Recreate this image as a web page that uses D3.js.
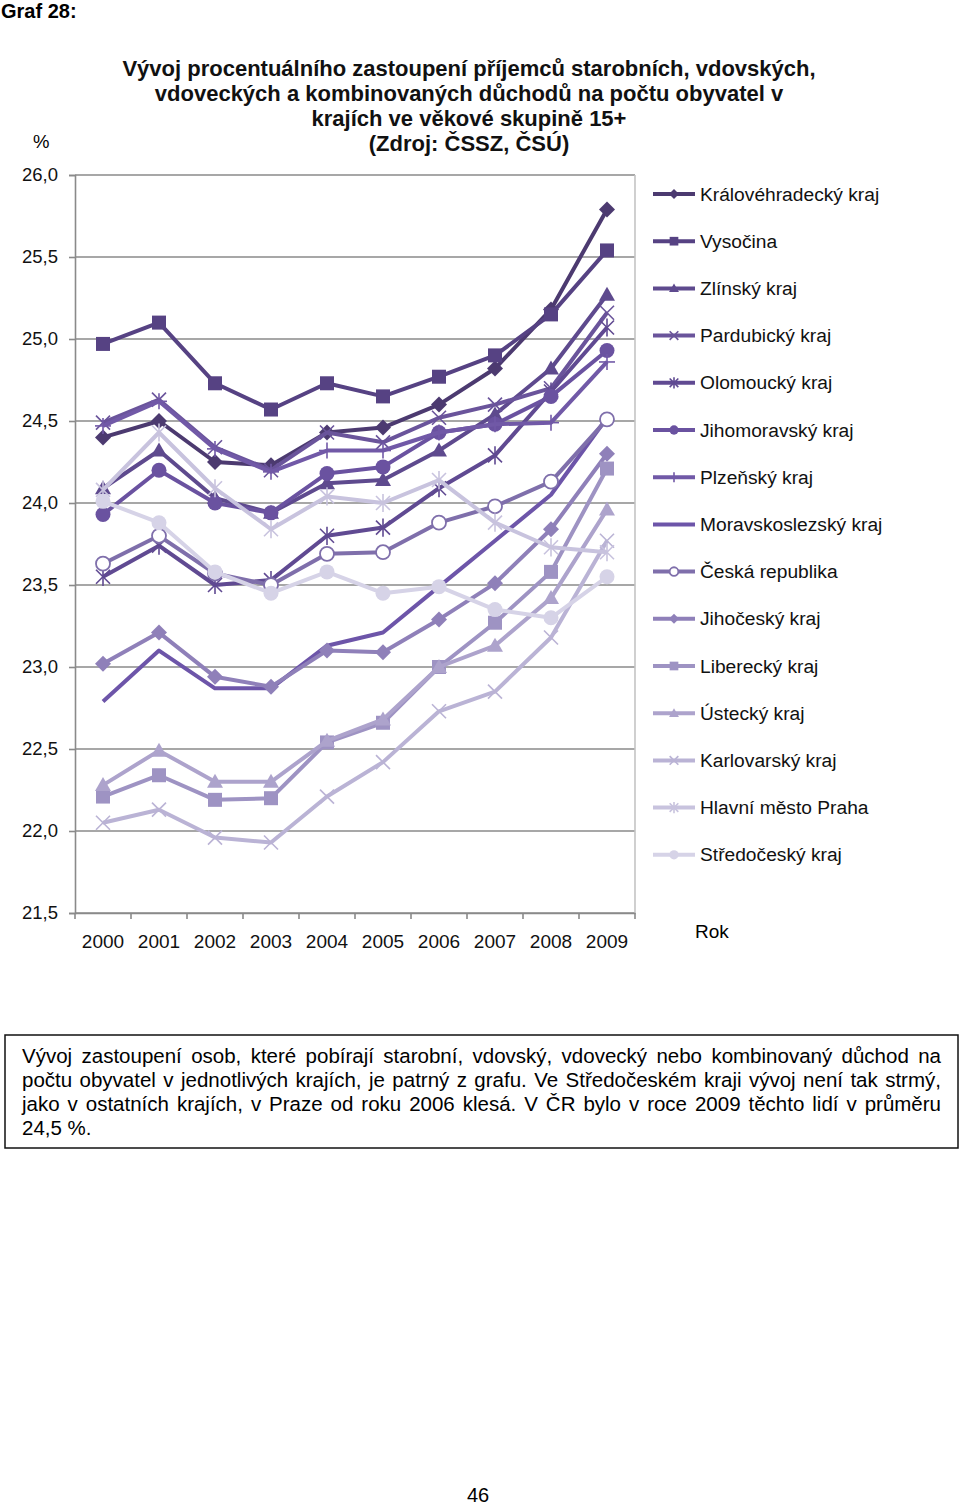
<!DOCTYPE html>
<html><head><meta charset="utf-8">
<script src="https://cdn.jsdelivr.net/npm/d3@7"></script>
<style>
body{margin:0;background:#fff;}
svg{display:block;font-family:"Liberation Sans",Arial,sans-serif;}
</style></head><body>
<svg id="c" width="960" height="1507"></svg>
<script>
const years = ["2000","2001","2002","2003","2004","2005","2006","2007","2008","2009"];
const seriesNames = ["Královéhradecký kraj","Vysočina","Zlínský kraj","Pardubický kraj","Olomoucký kraj","Jihomoravský kraj","Plzeňský kraj","Moravskoslezský kraj","Česká republika","Jihočeský kraj","Liberecký kraj","Ústecký kraj","Karlovarský kraj","Hlavní město Praha","Středočeský kraj"];
const kralovehradecky = [24.40,24.50,24.25,24.23,24.43,24.46,24.60,24.82,25.18,25.79];
const vysocina        = [24.97,25.10,24.73,24.57,24.73,24.65,24.77,24.90,25.15,25.54];
const zlinsky         = [24.09,24.32,24.03,23.94,24.12,24.14,24.32,24.54,24.82,25.27];
const pardubicky      = [24.49,24.63,24.34,24.20,24.43,24.37,24.52,24.60,24.70,25.16];
const olomoucky       = [23.55,23.74,23.50,23.53,23.80,23.85,24.09,24.29,24.68,25.07];
const jihomoravsky    = [23.93,24.20,24.00,23.94,24.18,24.22,24.43,24.48,24.65,24.93];
const plzensky        = [24.47,24.62,24.33,24.19,24.32,24.32,24.43,24.48,24.49,24.86];
const moravskoslezsky = [22.79,23.10,22.87,22.87,23.13,23.21,23.49,23.77,24.05,24.52];
const ceskaRepublika  = [23.63,23.80,23.57,23.50,23.69,23.70,23.88,23.98,24.13,24.51];
const jihocesky       = [23.02,23.21,22.94,22.88,23.10,23.09,23.29,23.51,23.84,24.30];
const liberecky       = [22.21,22.34,22.19,22.20,22.54,22.66,23.00,23.27,23.58,24.21];
const ustecky         = [22.28,22.49,22.30,22.30,22.55,22.68,23.00,23.13,23.42,23.96];
const karlovarsky     = [22.05,22.13,21.96,21.93,22.21,22.42,22.73,22.85,23.18,23.77];
const praha           = [24.08,24.43,24.09,23.84,24.04,24.00,24.14,23.88,23.73,23.70];
const stredocesky     = [24.01,23.88,23.58,23.45,23.58,23.45,23.49,23.35,23.30,23.55];
const yTicks = [21.5,22.0,22.5,23.0,23.5,24.0,24.5,25.0,25.5,26.0];
const markers = ["diamond","square","triangle","x","asterisk","circle","plus","none","ocircle","diamond","square","triangle","x","asterisk","circle"];
const colors = ["#4c3a70","#564283","#5e4a8e","#6a549b","#604a92","#6a52a0","#7159a7","#6d55a9","#7f6fab","#8f80b9","#9e93c3","#ada3cc","#bab3d5","#c8c3de","#d6d3e7"];
const values = [kralovehradecky,vysocina,zlinsky,pardubicky,olomoucky,jihomoravsky,plzensky,moravskoslezsky,ceskaRepublika,jihocesky,liberecky,ustecky,karlovarsky,praha,stredocesky];
const title = ["Vývoj procentuálního zastoupení příjemců starobních, vdovských,","vdoveckých a kombinovaných důchodů na počtu obyvatel v","krajích ve věkové skupině 15+","(Zdroj: ČSSZ, ČSÚ)"];
const para = ["Vývoj zastoupení osob, které pobírají starobní, vdovský, vdovecký nebo kombinovaný důchod na","počtu obyvatel v jednotlivých krajích, je patrný z grafu. Ve Středočeském kraji vývoj není tak strmý,","jako v ostatních krajích, v Praze od roku 2006 klesá. V ČR bylo v roce 2009 těchto lidí v průměru","24,5 %."];

const svg = d3.select("#c");
const L=75,R=635,T=175,B=913;
const x = d3.scaleBand().domain(years).range([L,R]).paddingInner(0).paddingOuter(0);
const y = d3.scaleLinear().domain([21.5,26]).range([B,T]);
const loc = d3.formatLocale({decimal:",",thousands:" ",grouping:[3],currency:["",""]});
const fmt = loc.format(".1f");
const cx = d => x(d)+x.bandwidth()/2;

svg.append("text").attr("x",1).attr("y",18).attr("font-size",20).attr("font-weight","bold").text("Graf 28:");
title.forEach((t,i)=>svg.append("text").attr("x",469).attr("y",76+i*25).attr("text-anchor","middle").attr("font-size",22).attr("font-weight","bold").attr("fill","#111").text(t));
svg.append("text").attr("x",33).attr("y",148).attr("font-size",18.5).text("%");

// grid
svg.append("g").selectAll("line").data(yTicks).join("line")
  .attr("x1",L).attr("x2",R).attr("y1",d=>y(d)).attr("y2",d=>y(d))
  .attr("stroke","#8a8a8a").attr("stroke-width",1.6);
svg.append("line").attr("x1",R).attr("x2",R).attr("y1",T).attr("y2",B).attr("stroke","#c4c4c4").attr("stroke-width",1.6);

// y axis
const ya = svg.append("g").attr("transform",`translate(${L},0)`)
  .call(d3.axisLeft(y).tickValues(yTicks).tickFormat(fmt).tickSize(6).tickPadding(11));
ya.select(".domain").attr("stroke","#8a8a8a").attr("stroke-width",1.6);
ya.selectAll(".tick line").attr("stroke","#8a8a8a").attr("stroke-width",1.6);
ya.selectAll("text").attr("font-size",18.5).attr("font-family","Liberation Sans, Arial").attr("fill","#111");

// x axis
const xa = svg.append("g").attr("transform",`translate(0,${B})`)
  .call(d3.axisBottom(x).tickSize(0).tickPadding(22));
xa.select(".domain").attr("stroke","#8a8a8a").attr("stroke-width",1.6);
xa.selectAll("text").attr("font-size",19).attr("font-family","Liberation Sans, Arial").attr("fill","#111");
const bounds = years.map(d=>x(d)).concat([x(years[years.length-1])+x.bandwidth()]);
xa.append("g").selectAll("line").data(bounds).join("line")
  .attr("x1",d=>d).attr("x2",d=>d).attr("y1",0).attr("y2",6).attr("stroke","#8a8a8a").attr("stroke-width",1.6);

svg.append("text").attr("x",695).attr("y",938).attr("font-size",19).text("Rok");

function drawMarker(g,type,px,py,col,s){
  const ln=(x1,y1,x2,y2,w)=>g.append("line").attr("x1",px+x1).attr("y1",py+y1).attr("x2",px+x2).attr("y2",py+y2).attr("stroke",col).attr("stroke-width",w);
  if(type==="diamond"){const a=8*s;g.append("path").attr("d",`M${px},${py-a}L${px+a},${py}L${px},${py+a}L${px-a},${py}Z`).attr("fill",col);}
  else if(type==="square"){const a=7*s;g.append("rect").attr("x",px-a).attr("y",py-a).attr("width",2*a).attr("height",2*a).attr("fill",col);}
  else if(type==="triangle"){const a=8*s;g.append("path").attr("d",`M${px},${py-a}L${px+a},${py+a*0.75}L${px-a},${py+a*0.75}Z`).attr("fill",col);}
  else if(type==="circle") g.append("circle").attr("cx",px).attr("cy",py).attr("r",7.5*s).attr("fill",col);
  else if(type==="ocircle") g.append("circle").attr("cx",px).attr("cy",py).attr("r",7*s).attr("fill","#fff").attr("stroke",col).attr("stroke-width",1.8);
  else if(type==="x"){const a=7*s;ln(-a,-a,a,a,1.6);ln(-a,a,a,-a,1.6);}
  else if(type==="asterisk"){const a=7*s;ln(-a,-a,a,a,1.6);ln(-a,a,a,-a,1.6);ln(0,-a*1.3,0,a*1.3,1.6);}
  else if(type==="plus"){const a=8*s;ln(-a,0,a,0,1.6);ln(0,-a,0,a,1.6);}
}

const line = d3.line().x((d,i)=>cx(years[i])).y(d=>y(d));
values.forEach((vals,k)=>{
  const g = svg.append("g");
  g.append("path").attr("d",line(vals)).attr("fill","none").attr("stroke",colors[k]).attr("stroke-width",4).attr("stroke-linejoin","round");
  vals.forEach((v,i)=>drawMarker(g,markers[k],cx(years[i]),y(v),colors[k],1));
});

// legend
seriesNames.forEach((n,k)=>{
  const ly = 194 + k*47.2;
  const g = svg.append("g");
  g.append("line").attr("x1",653).attr("x2",695).attr("y1",ly).attr("y2",ly).attr("stroke",colors[k]).attr("stroke-width",4);
  drawMarker(g,markers[k],674,ly,colors[k],0.62);
  g.append("text").attr("x",700).attr("y",ly+6.5).attr("font-size",19.2).attr("fill","#111").text(n);
});

// text box
svg.append("rect").attr("x",5).attr("y",1035).attr("width",953).attr("height",113).attr("fill","none").attr("stroke","#111").attr("stroke-width",1.5);
para.forEach((t,i)=>{
  const tx = svg.append("text").attr("x",22).attr("y",1063+i*24).attr("font-size",20.5).attr("fill","#000").text(t);
  if(i<3){
    const w = tx.node().getComputedTextLength();
    const spaces = (t.match(/ /g)||[]).length;
    tx.attr("word-spacing",((919-w)/spaces).toFixed(2));
  }
});
svg.append("text").attr("x",478).attr("y",1502).attr("text-anchor","middle").attr("font-size",20).text("46");
</script></body></html>
